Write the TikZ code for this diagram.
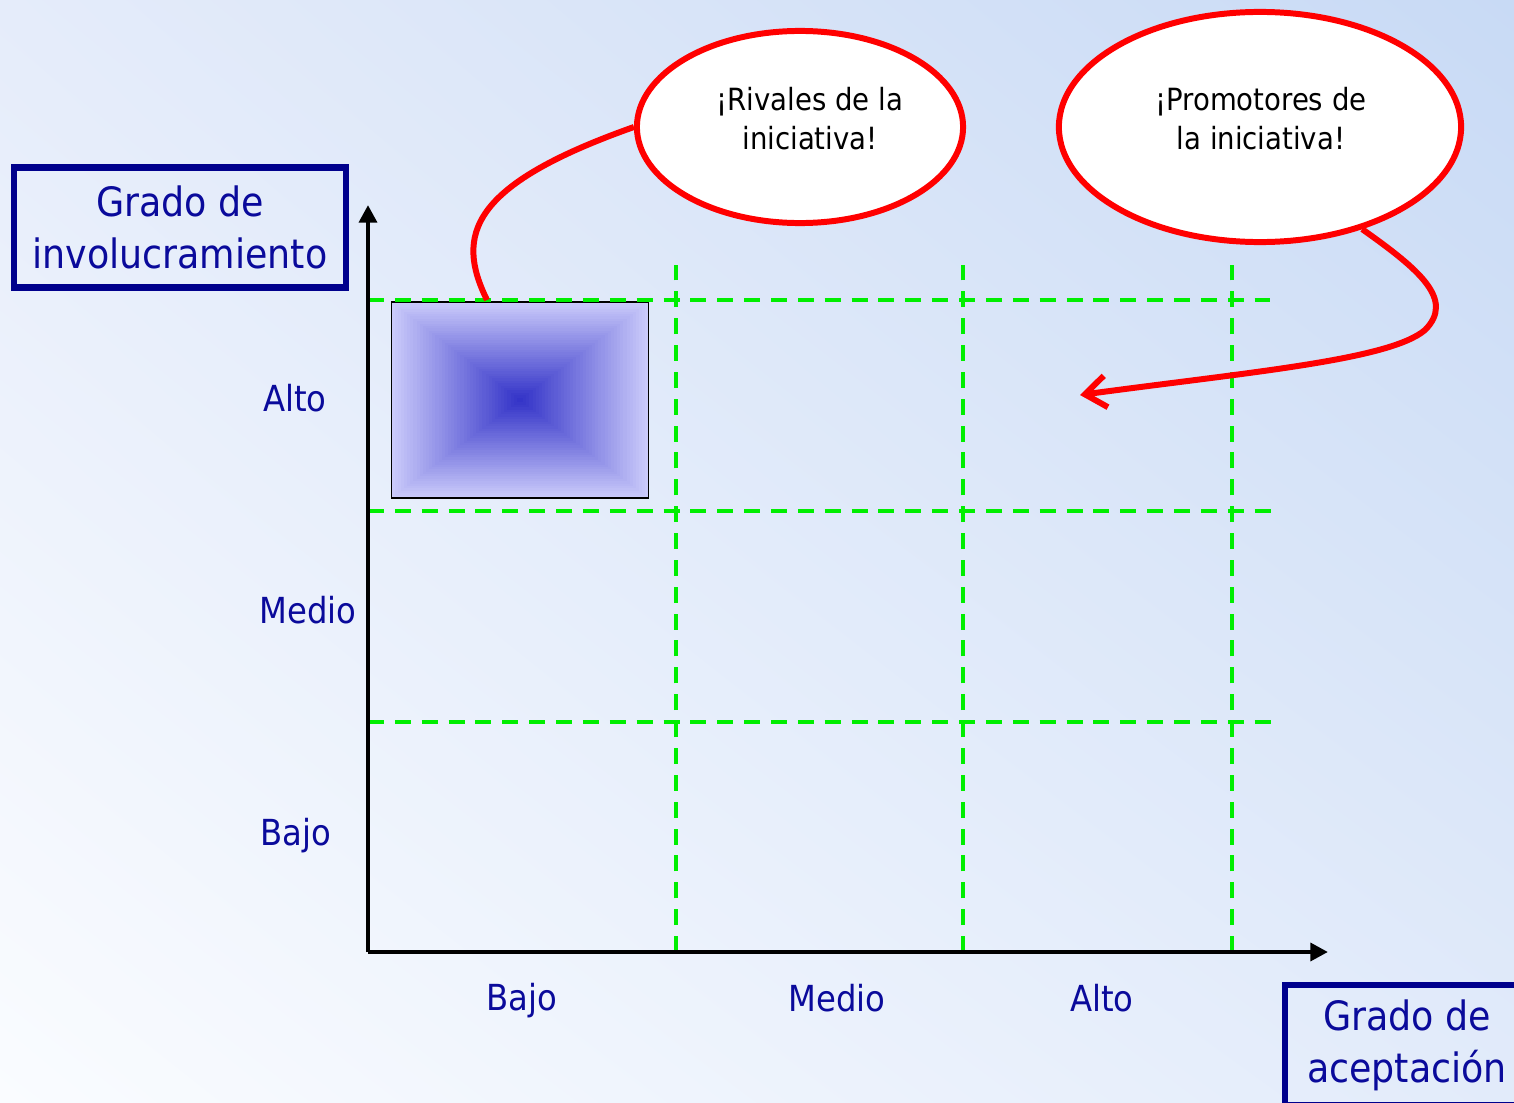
\documentclass[tikz,border=0pt]{standalone}
\usepackage{fontspec}
\setmainfont{DejaVu Sans Condensed}
\usetikzlibrary{positioning,arrows.meta,calc,shapes.geometric,shadings}
\definecolor{BgTopLeft}{RGB}{229,236,250}
\definecolor{BgTopRight}{RGB}{200,218,245}
\definecolor{BgLowLeft}{RGB}{250,252,255}
\definecolor{BgLowRight}{RGB}{226,235,250}
\definecolor{LabelBlue}{RGB}{10,10,155}
\definecolor{FrameNavy}{RGB}{0,0,140}
\definecolor{GridGreen}{RGB}{0,238,0}
\definecolor{CallRed}{RGB}{255,0,0}
\definecolor{HotCore}{RGB}{52,52,200}
\definecolor{HotEdge}{RGB}{202,202,250}
\tikzset{
  axis/.style={-{Triangle[length=5pt,width=5pt]},line width=1.3pt,draw=black},
  gridline/.style={draw=GridGreen,line width=1.05pt,dash pattern=on 4.55pt off 3.09pt},
  callout/.style={draw=CallRed,line width=1.7pt},
  titlebox/.style={draw=FrameNavy,line width=1.9pt,align=center,text=LabelBlue,
    font=\fontsize{11.5}{14.8}\selectfont,inner sep=0pt},
  bubble/.style={ellipse,draw=CallRed,fill=white,line width=1.7pt,inner sep=0pt},
  bubbletext/.style={align=center,font=\fontsize{8.7}{11.1}\selectfont,inner sep=0pt},
  levellabel/.style={text=LabelBlue,font=\fontsize{10.2}{12}\selectfont,inner sep=0pt}
}
\begin{document}
\begin{tikzpicture}[x=0.01cm,y=-0.01cm]
  % background
  \shade[upper left=BgTopLeft,upper right=BgTopRight,lower left=BgLowLeft,lower right=BgLowRight]
    (0,0) rectangle (1514,1103);
  \useasboundingbox (0,0) rectangle (1514,1103);

  % highlighted cell
  \foreach \i in {0,...,40}{
    \pgfmathsetmacro\f{1-\i/41}
    \pgfmathsetmacro\mix{\i*2.5}
    \fill[HotCore!\mix!HotEdge] (520-128.5*\f,400-98*\f) rectangle (520+128.5*\f,400+98*\f);
  }
  \node[draw=black,line width=0.5pt,minimum width=2.57cm,minimum height=1.96cm,inner sep=0pt] (hot) at (520,400) {};

  % grid
  \foreach \yy/\xe in {300/1270,511/1280,722/1280}
    \draw[gridline] (368,\yy) -- (\xe,\yy);
  \foreach \xx in {676,963,1232}
    \draw[gridline] (\xx,952) -- (\xx,265);

  % axes
  \coordinate (origin) at (368,952);
  \coordinate (ytip) at (368,205);
  \coordinate (xtip) at (1328,952);
  \draw[axis] (origin) -- (ytip);
  \draw[axis] (origin) -- (xtip);

  \node[levellabel] (yhigh) at (295,398) {Alto};
  \node[levellabel] (ymid) at (308,610) {Medio};
  \node[levellabel] (ylow) at (296,836) {Bajo};
  \node[levellabel] (xlow) at (522,1001) {Bajo};
  \node[levellabel] (xmid) at (837,998) {Medio};
  \node[levellabel] (xhigh) at (1102,998) {Alto};

  \node[titlebox,minimum width=3.32cm,minimum height=1.2cm] (ytitle) at (180,227.5) {Grado de\\involucramiento};
  \node[titlebox,minimum width=2.44cm,minimum height=1.2cm] (xtitle) at (1407,1045) {Grado de\\aceptación};

  % callouts
  \node[bubble,minimum width=3.26cm,minimum height=1.92cm] (rivals) at (800,127) {};
  \node[bubble,minimum width=4.02cm,minimum height=2.3cm] (promoters) at (1260,127) {};
  \node[bubbletext] (rivalstext) at (810,119) {¡Rivales de la\\iniciativa!};
  \node[bubbletext] (promoterstext) at (1261,119) {¡Promotores de\\la iniciativa!};
  \coordinate (rivtip) at (487,300);
  \coordinate (promtip) at (1080,395);
  \draw[callout] (rivals.west) .. controls (470,185) and (455,235) .. (rivtip);
  \draw[callout,-{Straight Barb[length=6pt,width=9pt]}] (promoters.-45)
    .. controls (1420,270) and (1455,300) .. (1425,330)
    .. controls (1390,360) and (1250,372) .. (promtip);
\end{tikzpicture}
\end{document}
